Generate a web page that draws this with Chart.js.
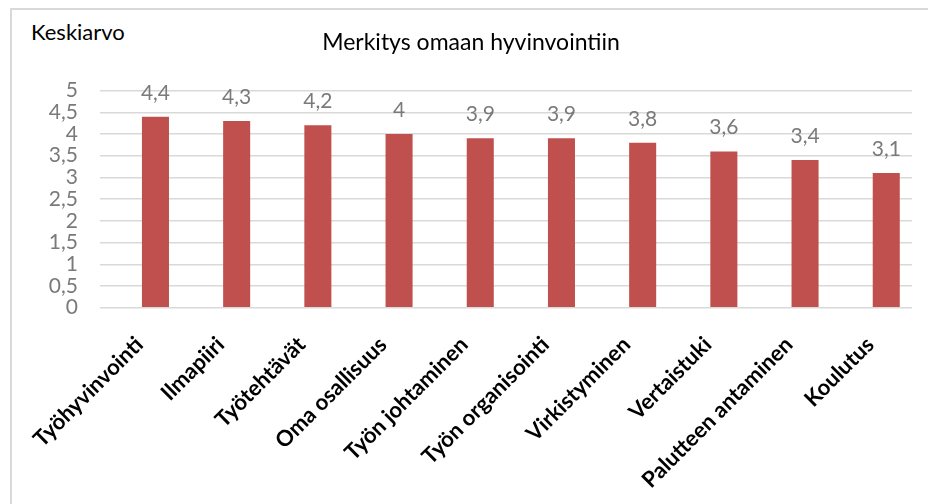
<!DOCTYPE html>
<html>
<head>
<meta charset="utf-8">
<script src="https://cdn.jsdelivr.net/npm/chart.js@4.4.1/dist/chart.umd.min.js"></script>
<style>
    body { margin: 0; background: #fff; }
    #wrap { position: relative; width: 928px; height: 504px; overflow: hidden; }
    #frame { position: absolute; left: 10px; top: 8px; right: -5px; bottom: -5px; border-top: 2px solid #d9d9d9; border-left: 2px solid #d9d9d9; }
    #ylabel { position: absolute; left: 31px; top: 21px; font: 22px Lato, sans-serif; line-height: 22px; color: #000; }
    canvas { position: absolute; left: 0; top: 0; }
</style>
</head>
<body>
<div id="wrap">
    <div id="frame"></div>
    <div id="ylabel">Keskiarvo</div>
    <canvas id="chart" width="928" height="504"></canvas>
</div>
<script>
// data
const categories = ['Työhyvinvointi', 'Ilmapiiri', 'Työtehtävät', 'Oma osallisuus', 'Työn johtaminen',
    'Työn organisointi', 'Virkistyminen', 'Vertaistuki', 'Palutteen antaminen', 'Koulutus'];
const values = [4.4, 4.3, 4.2, 4, 3.9, 3.9, 3.8, 3.6, 3.4, 3.1];
const yTicks = [0, 0.5, 1, 1.5, 2, 2.5, 3, 3.5, 4, 4.5, 5];

const fmt = v => String(v).replace('.', ',');

// value labels above the bars
const barLabels = {
    id: 'barLabels',
    afterDatasetsDraw(chart) {
        const ctx = chart.ctx;
        const meta = chart.getDatasetMeta(0);
        ctx.save();
        ctx.font = '21px Lato';
        ctx.fillStyle = '#7a7a7a';
        ctx.textAlign = 'center';
        ctx.textBaseline = 'alphabetic';
        meta.data.forEach((bar, i) => {
            ctx.fillText(fmt(values[i]), bar.x, bar.y - 17);
        });
        ctx.restore();
    }
};

new Chart(document.getElementById('chart'), {
    type: 'bar',
    data: {
        datasets: [{
            data: values.map((v, i) => ({x: i, y: v})),
            backgroundColor: '#C0504D',
            categoryPercentage: 1,
            barPercentage: 0.333
        }]
    },
    options: {
        responsive: false,
        animation: false,
        layout: {padding: {left: 30, right: 16, top: 0, bottom: 0}},
        plugins: {
            legend: {display: false},
            tooltip: {enabled: false},
            title: {
                display: true,
                text: 'Merkitys omaan hyvinvointiin',
                color: '#000',
                font: {family: 'Lato', size: 23, weight: 'normal', lineHeight: 1.2},
                padding: {top: 29, bottom: 34}
            }
        },
        scales: {
            x: {
                type: 'linear',
                offset: false,
                min: -0.683,
                max: 9.317,
                afterBuildTicks: scale => { scale.ticks = categories.map((c, i) => ({value: i})); },
                afterFit: scale => { scale.height = 504 - 307.7; },
                grid: {display: false},
                border: {display: false},
                ticks: {
                    autoSkip: false,
                    minRotation: 45,
                    maxRotation: 45,
                    padding: 16,
                    labelOffset: -16,
                    color: '#000',
                    font: {family: 'Lato', size: 22, weight: 'bold'},
                    callback: v => categories[v]
                }
            },
            y: {
                min: 0,
                max: 5,
                afterBuildTicks: scale => { scale.ticks = yTicks.map(v => ({value: v})); },
                afterFit: scale => { scale.width = 70; },
                grid: {color: '#d9d9d9', lineWidth: 1.5, drawTicks: false},
                border: {display: false},
                ticks: {
                    autoSkip: false,
                    padding: 22,
                    color: '#7a7a7a',
                    font: {family: 'Lato', size: 21},
                    callback: v => fmt(v)
                }
            }
        }
    },
    plugins: [barLabels]
});
</script>
</body>
</html>
